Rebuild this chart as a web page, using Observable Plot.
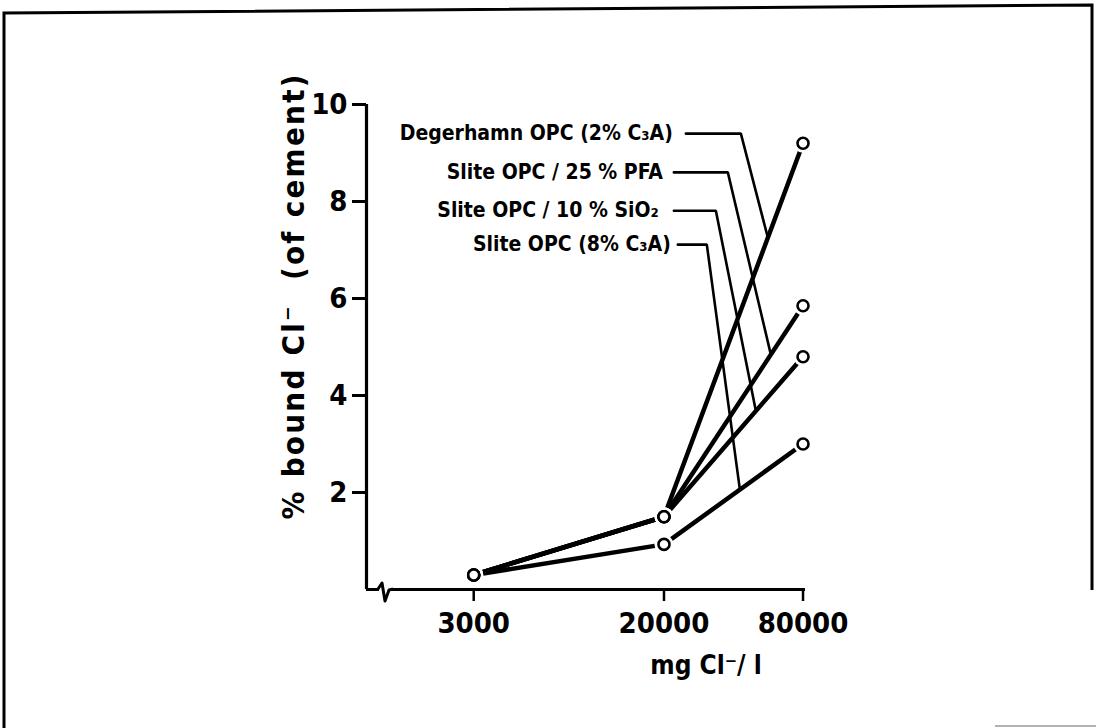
<!DOCTYPE html>
<html>
<head>
<meta charset="utf-8">
<script src="https://cdn.jsdelivr.net/npm/d3@7"></script>
<script src="https://cdn.jsdelivr.net/npm/@observablehq/plot@0.6"></script>
<style>
  html, body { margin: 0; padding: 0; background: #fff; }
  #page { position: relative; width: 1096px; height: 728px; overflow: hidden; background: #fff; }
  #page > svg { position: absolute; left: 0; top: 0; }
</style>
</head>
<body>
<div id="page">
  <!-- printed border round the figure -->
  <svg id="border" width="1096" height="728">
    <polyline points="4,728 4,13 1092,5 1092,590" fill="none" stroke="#000" stroke-width="3"/>
    <line x1="995" y1="726" x2="1096" y2="726" stroke="#999" stroke-width="1.5"/>
  </svg>
</div>
<script>
// Chloride concentration of the storage solution (mg Cl-/l)
const concentrations = [3000, 20000, 80000];

// Cements tested
const cementNames = [
  "Degerhamn OPC (2% C₃A)",
  "Slite OPC / 25 % PFA",
  "Slite OPC / 10 % SiO₂",
  "Slite OPC (8% C₃A)"
];

// Bound chloride, % of cement weight, at each concentration
const degerhamnOPC = [0.3, 1.5, 9.2];
const sliteOPC_PFA = [0.3, 1.5, 5.85];
const sliteOPC_SiO2 = [0.3, 1.5, 4.8];
const sliteOPC = [0.3, 0.93, 3.0];

// Axis ticks
const xTicks = [3000, 20000, 80000];
const xTickLabels = ["3000", "20000", "80000"];
const yTicks = [2, 4, 6, 8, 10];

// Axis titles
const xTitle = "mg Cl⁻/ l";
const yTitle = "% bound Cl⁻  (of cement)";

// Callouts naming each curve: text row, leader start, bend and the
// concentration at which the leader meets its curve
const calloutY = [9.4, 8.6, 7.81, 7.11];
const calloutTextX = [21840, 19770, 19000, 21420];
const calloutStartX = [24870, 22070, 22070, 22960];
const calloutBendX = [43050, 37800, 33550, 30660];
const calloutEndX = [56350, 58050, 50000, 42630];

const seriesValues = [degerhamnOPC, sliteOPC_PFA, sliteOPC_SiO2, sliteOPC];

// Long table for the line and dot marks
const rows = seriesValues.flatMap((vals, s) =>
  vals.map((v, i) => ({cement: cementNames[s], conc: concentrations[i], bound: v}))
);

// Value of a curve at concentration c (straight in log-concentration)
function curveAt(vals, c) {
  const lc = Math.log10(c);
  for (let i = 0; i < concentrations.length - 1; i++) {
    const a = Math.log10(concentrations[i]), b = Math.log10(concentrations[i + 1]);
    if (lc >= a && lc <= b) return vals[i] + (vals[i + 1] - vals[i]) * (lc - a) / (b - a);
  }
  return vals[vals.length - 1];
}

const leaders = cementNames.flatMap((name, s) => [
  {cement: name, conc: calloutStartX[s], bound: calloutY[s]},
  {cement: name, conc: calloutBendX[s], bound: calloutY[s]},
  {cement: name, conc: calloutEndX[s], bound: curveAt(seriesValues[s], calloutEndX[s])}
]);
const callouts = cementNames.map((name, s) => ({name, conc: calloutTextX[s], bound: calloutY[s]}));
const xTickRows = xTicks.map((t, i) => ({conc: t, label: xTickLabels[i]}));

const FONT = "'DejaVu Sans Condensed', 'DejaVu Sans', sans-serif";
const xMin = 1030, xMax = 82000;

// Zig-zag break in the concentration axis near its origin
function axisBreak(index, scales) {
  const x0 = scales.x(xMin), y0 = scales.y(0);
  const g = document.createElementNS("http://www.w3.org/2000/svg", "g");
  const cut = document.createElementNS("http://www.w3.org/2000/svg", "rect");
  cut.setAttribute("x", x0 + 13); cut.setAttribute("y", y0 - 4);
  cut.setAttribute("width", 13); cut.setAttribute("height", 8);
  cut.setAttribute("fill", "#fff");
  const zig = document.createElementNS("http://www.w3.org/2000/svg", "path");
  zig.setAttribute("d", `M${x0 + 12},${y0} L${x0 + 16},${y0 - 6} L${x0 + 19},${y0 + 12} L${x0 + 23},${y0 + 1} L${x0 + 27},${y0}`);
  zig.setAttribute("fill", "none"); zig.setAttribute("stroke", "#000");
  zig.setAttribute("stroke-width", 3); zig.setAttribute("stroke-linejoin", "round");
  g.append(cut, zig);
  return g;
}

const chart = Plot.plot({
  width: 1096,
  height: 728,
  marginLeft: 366,
  marginRight: 291,
  marginTop: 104,
  marginBottom: 139,
  x: {type: "log", domain: [xMin, xMax], axis: null},
  y: {domain: [0, 10], axis: null},
  style: {fontFamily: FONT, background: "transparent", color: "#000"},
  marks: [
    // axes
    Plot.ruleX([xMin], {y1: 0, y2: 10, strokeWidth: 3.2}),
    Plot.ruleY([0], {x1: xMin, x2: xMax, strokeWidth: 3.2}),
    axisBreak,
    Plot.axisY({
      ticks: yTicks, tickSize: 14, tickPadding: 5, strokeWidth: 3,
      fontSize: 29, fontWeight: "bold", label: null, tickFormat: d => String(d)
    }),
    Plot.axisX({
      ticks: xTicks, tickSize: 12, tickPadding: 8, strokeWidth: 2.5,
      label: null, tickFormat: () => ""
    }),
    Plot.text(xTickRows, {
      x: "conc", text: "label", frameAnchor: "bottom", lineAnchor: "bottom",
      dy: 43, fontSize: 29, fontWeight: "bold"
    }),
    Plot.text([xTitle], {frameAnchor: "bottom", dx: 120, dy: 84, fontSize: 26, fontWeight: "bold", lineAnchor: "bottom"}),
    Plot.text([yTitle], {
      frameAnchor: "left", textAnchor: "middle", dx: -63, dy: -50, rotate: -90,
      fontSize: 31, fontWeight: "bold", lineAnchor: "bottom"
    }),
    // curves
    Plot.line(rows, {x: "conc", y: "bound", z: "cement", strokeWidth: 4.5, strokeLinecap: "round"}),
    // callout leaders and names
    Plot.line(leaders, {x: "conc", y: "bound", z: "cement", strokeWidth: 2.6, strokeLinejoin: "miter"}),
    Plot.text(callouts, {
      x: "conc", y: "bound", text: "name", textAnchor: "end",
      fontSize: 21, fontWeight: "bold"
    }),
    // measured points: white halo then open circle
    Plot.dot(rows, {x: "conc", y: "bound", r: 9.5, fill: "#fff", stroke: null}),
    Plot.dot(rows, {x: "conc", y: "bound", r: 5.5, fill: "#fff", stroke: "#000", strokeWidth: 2.6})
  ]
});

// Spread the rotated axis title over the full height of the value axis
d3.select(chart).selectAll("text")
  .filter(function () { return this.textContent === yTitle; })
  .attr("textLength", 445)
  .attr("lengthAdjust", "spacing");

document.getElementById("page").append(chart);
</script>
</body>
</html>
